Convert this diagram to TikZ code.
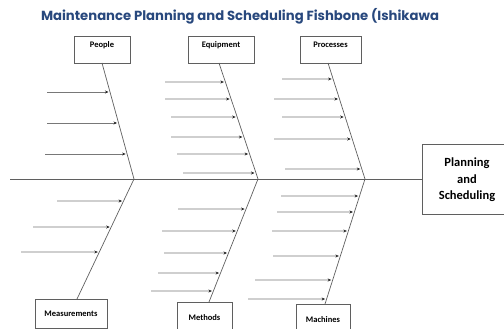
\documentclass[tikz,border=0pt]{standalone}
\usepackage{fontspec}
\setmainfont{Carlito}
\newfontfamily\titlefont{Poppins}
\usetikzlibrary{arrows.meta}
\definecolor{titleblue}{RGB}{40,72,125}
\definecolor{linegray}{RGB}{95,95,95}
\definecolor{subgray}{RGB}{120,120,120}
\tikzset{
  catbox/.style={draw=linegray, line width=0.6pt, fill=white, font=\bfseries\fontsize{8.5}{10}\selectfont, inner sep=0pt},
  bone/.style={draw=linegray, line width=0.7pt},
  sub/.style={draw=subgray, line width=0.6pt, -{Stealth[length=3.5pt,width=3pt,color=black!85]}, shorten >=1.5pt},
}
\begin{document}
\begin{tikzpicture}[x=1pt,y=-1pt]
\useasboundingbox (0,0) rectangle (504,329);
\clip (0,0) rectangle (504,329);
% title
\node[font=\titlefont\bfseries\fontsize{13.2}{15}\selectfont, text=titleblue, anchor=base] (title) at (240,21) {Maintenance Planning and Scheduling Fishbone (Ishikawa};
% category boxes
\node[catbox, minimum width=56pt, minimum height=27pt, text depth=10pt] (ppl) at (102,49.5) {People};
\node[catbox, minimum width=66pt, minimum height=27pt, text depth=10pt] (eqp) at (221,49.5) {Equipment};
\node[catbox, minimum width=61pt, minimum height=27pt, text depth=10pt] (prc) at (330.5,49.5) {Processes};
\node[catbox, minimum width=72pt, minimum height=29pt] (msr) at (71,313.5) {Measurements};
\node[catbox, minimum width=55pt, minimum height=30pt] (mth) at (204.5,317.5) {Methods};
\node[catbox, minimum width=54pt, minimum height=31pt] (mch) at (323,319.5) {Machines};
\node[draw=linegray, line width=0.6pt, minimum width=110pt, minimum height=70pt, align=center,
  font=\bfseries\fontsize{12.5}{16.5}\selectfont] (effbox) at (477,179) {};
\node[align=center, font=\bfseries\fontsize{12.5}{16.5}\selectfont] (eff) at (467,180) {Planning\\and\\Scheduling};
% bone coordinates
\coordinate (pT) at (102,63);  \coordinate (pS) at (134,179);
\coordinate (eT) at (219,63);  \coordinate (eS) at (258,179);
\coordinate (rT) at (328,63);  \coordinate (rS) at (365,179);
\coordinate (mB) at (77,299);
\coordinate (tB) at (209,302);
\coordinate (cB) at (325,304);
\coordinate (tail) at (10,179);
% spine
\draw[bone, line width=0.8pt] (tail) -- (effbox.west);
% bones
\draw[bone] (pT) -- (pS);
\draw[bone] (eT) -- (eS);
\draw[bone] (rT) -- (rS);
\draw[bone] (pS) -- (mB);
\draw[bone] (eS) -- (tB);
\draw[bone] (rS) -- (cB);
% sub causes
\foreach \xs/\ys in {47/92, 47/123, 45/154}
  {\coordinate (s) at (\xs,\ys); \draw[sub] (s) -- (intersection of pT--pS and 0,\ys--1,\ys);}
\foreach \xs/\ys in {165/82, 165/99, 171/117, 171/137, 177/154, 183/173}
  {\coordinate (s) at (\xs,\ys); \draw[sub] (s) -- (intersection of eT--eS and 0,\ys--1,\ys);}
\foreach \xs/\ys in {282/79, 274/99, 282/117, 274/139, 285/169}
  {\coordinate (s) at (\xs,\ys); \draw[sub] (s) -- (intersection of rT--rS and 0,\ys--1,\ys);}
\foreach \xs/\ys in {57/201, 33/227, 21/252}
  {\coordinate (s) at (\xs,\ys); \draw[sub] (s) -- (intersection of pS--mB and 0,\ys--1,\ys);}
\foreach \xs/\ys in {178/209, 162/231, 164/253, 158/273, 151/291}
  {\coordinate (s) at (\xs,\ys); \draw[sub] (s) -- (intersection of eS--tB and 0,\ys--1,\ys);}
\foreach \xs/\ys in {281/196, 277/212, 272/231, 273/256, 255/280, 248/299}
  {\coordinate (s) at (\xs,\ys); \draw[sub] (s) -- (intersection of rS--cB and 0,\ys--1,\ys);}
\end{tikzpicture}
\end{document}
